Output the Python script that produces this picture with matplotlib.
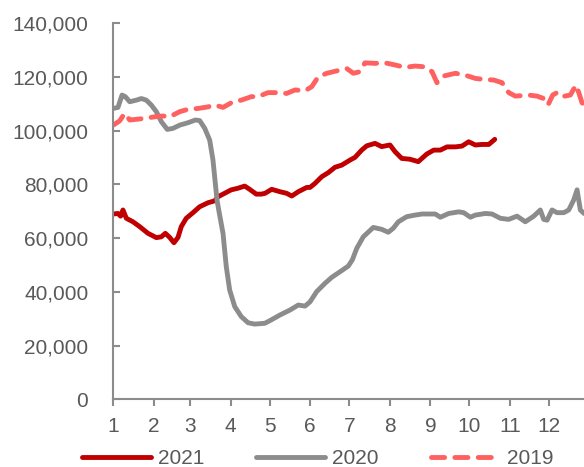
import matplotlib
matplotlib.use("Agg")
import matplotlib.pyplot as plt

# Day-of-year (0 = 1 Jan) and values
days_2021 = [0, 3.6, 5.6, 7.4, 10, 15.1, 20.2, 26.6, 33, 36.8, 39.9, 43.2, 46.5, 49.6,
             52.1, 55.9, 61.1, 66.2, 72.6, 77.7, 80.2, 84.1, 90.4, 95.6, 100.7, 104.5,
             109.6, 113.4, 116.3, 121.4, 127.8, 132.9, 136.8, 141.8, 148.3, 150.8, 154.6,
             159.8, 164.8, 169.9, 175.1, 181.5, 185.3, 190.4, 194.3, 200.6, 205.7, 212.1,
             216, 221.1, 227.4, 233.8, 240.2, 245.6, 250.7, 255.8, 262.2, 267.3, 272.4,
             277.5, 282.6, 287.8, 292.4]
vals_2021 = [69000, 69200, 68200, 70500, 67400, 66100, 64300, 61800, 60200, 60500, 61800,
             60300, 58300, 60300, 64300, 67400, 69500, 71700, 73200, 73900, 75400, 76400,
             78000, 78600, 79400, 78200, 76400, 76400, 76700, 78200, 77300, 76700, 75700,
             77300, 78900, 78900, 80400, 82900, 84400, 86400, 87200, 89100, 90100, 92800,
             94400, 95300, 94100, 94700, 92200, 89700, 89400, 88500, 91300, 92800, 92800,
             94000, 94000, 94300, 95900, 94700, 94900, 94900, 96800]

days_2020 = [0, 3.6, 6.7, 9.2, 12.6, 17.6, 21.5, 25.3, 29.1, 33, 36.8, 41.4, 45.8, 50.9,
             57.3, 62.9, 66.2, 70.1, 73.9, 76.4, 78.2, 79.5, 81, 84.1, 86.6, 89.2, 93.1,
             98.1, 103.3, 108.4, 116.1, 120.1, 127.8, 135.3, 141.8, 147, 150.8, 155.9,
             162.3, 167.4, 173.8, 180.1, 183.2, 186.6, 191.6, 199.3, 205.7, 210.8, 214.6,
             218.5, 224.9, 231.3, 236.6, 241.8, 246.8, 250.7, 257.1, 264.8, 268.6, 273.7,
             277.5, 285.2, 290.3, 296.7, 303.1, 309.5, 315.8, 322.3, 327.3, 329.9, 332.5,
             336.3, 340.1, 345.3, 349.1, 352.9, 355.5, 358, 360.8]
vals_2020 = [108300, 108700, 113300, 112700, 110800, 111400, 112000, 111400, 109600,
             107100, 103400, 100500, 100900, 102100, 103000, 104000, 103800, 100900,
             96500, 89100, 80400, 74200, 70000, 61800, 49400, 40700, 34500, 30800, 28500,
             28000, 28300, 29300, 31400, 33200, 35100, 34700, 36300, 40100, 43200, 45400,
             47500, 49600, 51900, 56200, 60500, 64000, 63300, 62200, 63700, 66100, 68000,
             68600, 69000, 69000, 69000, 67800, 69200, 69800, 69500, 67800, 68600, 69200,
             69000, 67400, 67000, 68200, 66100, 68200, 70500, 67000, 66700, 70500, 69500,
             69500, 70500, 74200, 78000, 70500, 69200]

days_2019 = [0, 4.9, 8.7, 12.6, 16.4, 24.1, 31.7, 38.1, 43.2, 50.9, 57.3, 64.9, 72.6,
             77.7, 84.1, 91.8, 98.1, 105.8, 110.9, 118.6, 124, 132.9, 139.3, 147, 152.1,
             157.1, 163.6, 171.3, 178.9, 184, 189.1, 192.9, 200.6, 208.3, 216, 223.6,
             231.3, 239.2, 244.3, 248.1, 253.3, 262.2, 269.8, 277.5, 283.9, 291.6, 298,
             303.1, 308.2, 318.4, 324.8, 329.9, 333.2, 336.8, 340.1, 344, 350.3, 354.7,
             356.8, 359.3, 362]
vals_2019 = [102100, 103700, 106500, 104000, 104200, 104600, 105200, 105500, 105200,
             107100, 108000, 108300, 108900, 109600, 108700, 110800, 111400, 112700,
             112700, 114200, 114200, 113900, 115200, 114900, 116400, 120100, 121400,
             122300, 123200, 121400, 122000, 125300, 125100, 125300, 124500, 123600,
             124100, 123800, 122000, 117900, 120400, 121400, 120700, 119500, 119100,
             118900, 117900, 114200, 112900, 113300, 112900, 112000, 109600, 113300,
             114200, 112700, 113300, 117000, 114200, 110400, 109500]

month_starts = [0, 31, 59, 90, 120, 151, 181, 212, 243, 273, 304, 334]
month_labels = ["1", "2", "3", "4", "5", "6", "7", "8", "9", "10", "11", "12"]
y_ticks = [0, 20000, 40000, 60000, 80000, 100000, 120000, 140000]

plt.rcParams['font.family'] = ['Liberation Sans', 'DejaVu Sans']

fig = plt.figure(figsize=(5.84, 4.67), dpi=100)
ax = fig.add_axes([0.194, 0.145, 0.806, 0.805])

l1, = ax.plot(days_2021, vals_2021, color="#C00000", lw=3.5, solid_joinstyle="round",
              solid_capstyle="round", label="2021")
l2, = ax.plot(days_2020, vals_2020, color="#8C8C8C", lw=3.5, solid_joinstyle="round",
              solid_capstyle="round", label="2020")
l3, = ax.plot(days_2019, vals_2019, color="#FF6161", lw=3.5, linestyle=(0, (2.7, 2.1)),
              dash_capstyle="round", label="2019")

ax.set_xlim(0, 360.8)
ax.set_ylim(0, 140000)
ax.set_xticks(month_starts)
ax.set_xticklabels(month_labels)
ax.set_yticks(y_ticks)
ax.set_yticklabels([f"{v:,}" for v in y_ticks])

for s in ["top", "right"]:
    ax.spines[s].set_visible(False)
for s in ["left", "bottom"]:
    ax.spines[s].set_color("#8C8C8C")
    ax.spines[s].set_linewidth(1.5)

ax.tick_params(axis="y", direction="in", length=5, width=1.5, color="#8C8C8C",
               labelsize=15, labelcolor="#595959", pad=18)
ax.tick_params(axis="x", direction="out", length=5, width=1.5, color="#8C8C8C",
               labelsize=15, labelcolor="#595959", pad=8)

fig.legend(handles=[l1, l2, l3], loc="center", bbox_to_anchor=(0.544, 0.018), ncol=3,
           frameon=False, fontsize=15, handlelength=3.3, handletextpad=0.35,
           columnspacing=2.5, labelcolor="#595959")

fig.savefig("out.png", dpi=100)
